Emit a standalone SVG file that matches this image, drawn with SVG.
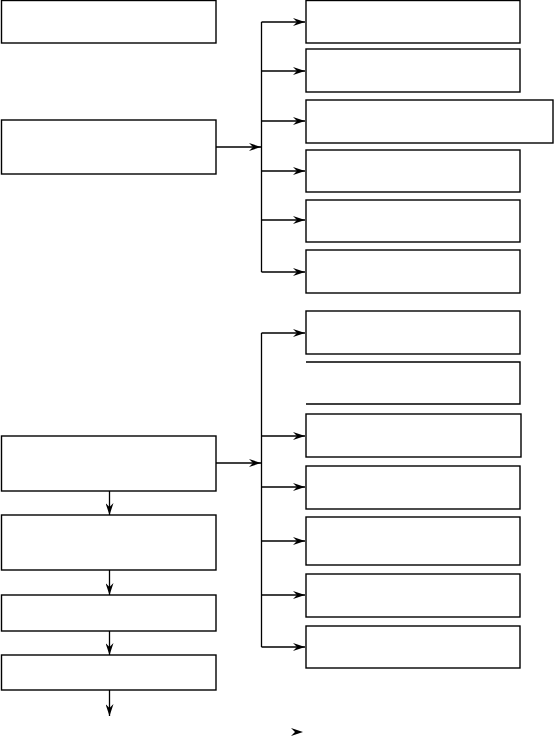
<svg xmlns="http://www.w3.org/2000/svg" width="554" height="739" viewBox="0 0 554 739">
<style>
rect,.box{fill:#fff;stroke:#000;stroke-width:1.4}
.c path,.c line{fill:none;stroke:#000;stroke-width:1.3}
</style>
<defs>
<marker id="ah" viewBox="0 0 12 8" refX="12" refY="4" markerWidth="12" markerHeight="8" markerUnits="userSpaceOnUse" orient="auto">
<path d="M0,0 L12,4 L0,8 L4,4 z" fill="#000"/>
</marker>
</defs>
<rect width="554" height="739" fill="#fff" style="stroke:none"/>
<g id="L1"><rect x="1.5" y="0.5" width="214.5" height="42.5"/></g>
<g id="L2"><rect x="1.5" y="120" width="214.5" height="54"/></g>
<g id="L3"><rect x="1.5" y="436" width="214.5" height="55"/></g>
<g id="L4"><rect x="1.5" y="515" width="214.5" height="55"/></g>
<g id="L5"><rect x="1.5" y="595" width="214.5" height="36"/></g>
<g id="L6"><rect x="1.5" y="655" width="214.5" height="35"/></g>
<g id="R1"><rect x="306" y="0.5" width="214" height="42.5"/></g>
<g id="R2"><rect x="306" y="49" width="214" height="43"/></g>
<g id="R3"><rect x="306" y="100" width="247" height="43"/></g>
<g id="R4"><rect x="306" y="150" width="214" height="42"/></g>
<g id="R5"><rect x="306" y="200" width="214" height="42"/></g>
<g id="R6"><rect x="306" y="250" width="214" height="43"/></g>
<g id="R7"><rect x="306" y="311" width="214" height="43"/></g>
<g id="R8"><path class="box" d="M306,362 H520 V404 H306"/></g>
<g id="R9"><rect x="306" y="414" width="215" height="43"/></g>
<g id="R10"><rect x="306" y="466" width="214" height="43"/></g>
<g id="R11"><rect x="306" y="517" width="214" height="48"/></g>
<g id="R12"><rect x="306" y="574" width="214" height="43"/></g>
<g id="R13"><rect x="306" y="626" width="214" height="42"/></g>
<g id="connectors" class="c">
<line x1="216" y1="147" x2="261" y2="147" marker-end="url(#ah)"/>
<line x1="261.5" y1="22" x2="261.5" y2="272"/>
<line x1="261.5" y1="22" x2="305" y2="22" marker-end="url(#ah)"/>
<line x1="261.5" y1="71" x2="305" y2="71" marker-end="url(#ah)"/>
<line x1="261.5" y1="121" x2="305" y2="121" marker-end="url(#ah)"/>
<line x1="261.5" y1="171" x2="305" y2="171" marker-end="url(#ah)"/>
<line x1="261.5" y1="220" x2="305" y2="220" marker-end="url(#ah)"/>
<line x1="261.5" y1="272" x2="305" y2="272" marker-end="url(#ah)"/>
<line x1="216" y1="463" x2="261" y2="463" marker-end="url(#ah)"/>
<line x1="261.5" y1="333" x2="261.5" y2="647"/>
<line x1="261.5" y1="333" x2="305" y2="333" marker-end="url(#ah)"/>
<line x1="261.5" y1="436" x2="305" y2="436" marker-end="url(#ah)"/>
<line x1="261.5" y1="487" x2="305" y2="487" marker-end="url(#ah)"/>
<line x1="261.5" y1="541" x2="305" y2="541" marker-end="url(#ah)"/>
<line x1="261.5" y1="595" x2="305" y2="595" marker-end="url(#ah)"/>
<line x1="261.5" y1="647" x2="305" y2="647" marker-end="url(#ah)"/>
<line x1="109.5" y1="491" x2="109.5" y2="515" marker-end="url(#ah)"/>
<line x1="109.5" y1="570" x2="109.5" y2="595" marker-end="url(#ah)"/>
<line x1="109.5" y1="631" x2="109.5" y2="655" marker-end="url(#ah)"/>
<line x1="109.5" y1="690" x2="109.5" y2="716" marker-end="url(#ah)"/>
<path d="M291,728 L303,732 L291,736 L295,732 z" style="fill:#000;stroke:none"/>
</g>
</svg>
